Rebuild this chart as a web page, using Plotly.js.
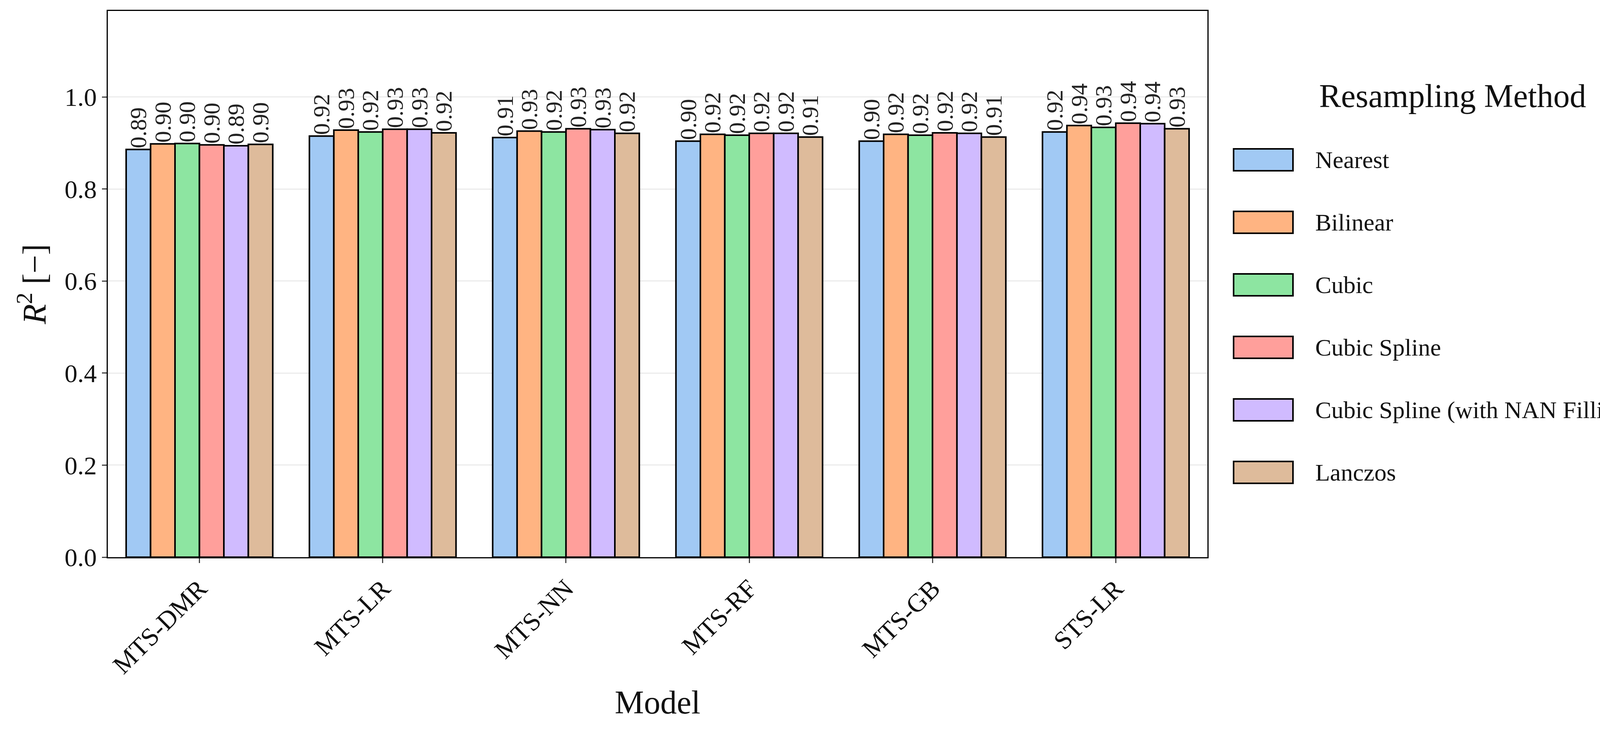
<!DOCTYPE html>
<html>
<head>
<meta charset="utf-8">
<script src="https://cdn.plot.ly/plotly-3.0.1.min.js"></script>
<style>body{margin:0;background:#fff}#graph{width:4383px;height:1899px}</style>
</head>
<body>
<div id="graph"></div>
<script>
/* ----- data ----- */
var models = ['MTS-DMR', 'MTS-LR', 'MTS-NN', 'MTS-RF', 'MTS-GB', 'STS-LR'];
var methods = ['Nearest', 'Bilinear', 'Cubic', 'Cubic Spline', 'Cubic Spline (with NAN Filling)', 'Lanczos'];
var nearest   = [0.886, 0.915, 0.912, 0.904, 0.904, 0.924];
var bilinear  = [0.898, 0.928, 0.926, 0.919, 0.919, 0.938];
var cubic     = [0.899, 0.924, 0.924, 0.917, 0.917, 0.934];
var spline    = [0.896, 0.930, 0.931, 0.921, 0.922, 0.943];
var splineNan = [0.894, 0.930, 0.929, 0.921, 0.921, 0.942];
var lanczos   = [0.897, 0.922, 0.921, 0.913, 0.913, 0.931];
var series = [nearest, bilinear, cubic, spline, splineNan, lanczos];
var colors = ['#a1c9f4', '#ffb482', '#8de5a1', '#ff9f9b', '#d0bbff', '#debb9b'];

var FONT = 'Liberation Serif, DejaVu Serif, serif';
var W = 4383, H = 1899;
var M = {l: 276, r: 1292, t: 28, b: 473};
var plotW = W - M.l - M.r, plotH = H - M.t - M.b;
function px(x) { return (x - M.l) / plotW; }
function py(y) { return (H - M.b - y) / plotH; }

var data = series.map(function(vals, i) {
    return {
        type: 'bar',
        name: methods[i],
        x: models,
        y: vals,
        marker: {color: colors[i], line: {color: '#000', width: 4}},
        texttemplate: '%{y:.2f}',
        textposition: 'outside',
        textangle: -90,
        constraintext: 'none',
        cliponaxis: false,
        textfont: {family: FONT, size: 60, color: '#222'}
    };
});

/* hand-drawn legend (plotly's bar legend icons are too small) */
var shapes = [], annotations = [];
annotations.push({
    xref: 'paper', yref: 'paper', x: px(3375), y: py(245),
    xanchor: 'left', yanchor: 'middle', showarrow: false,
    text: 'Resampling Method', font: {size: 84, family: FONT, color: '#111'}
});
methods.forEach(function(m, i) {
    var cy = 409 + i * 160;
    shapes.push({
        type: 'rect', xref: 'paper', yref: 'paper',
        x0: px(3158), x1: px(3310), y0: py(cy - 28), y1: py(cy + 28),
        fillcolor: colors[i], line: {color: '#000', width: 4}
    });
    annotations.push({
        xref: 'paper', yref: 'paper', x: px(3365), y: py(cy),
        xanchor: 'left', yanchor: 'middle', showarrow: false,
        text: m, font: {size: 62, family: FONT, color: '#111'}
    });
});

var layout = {
    width: W,
    height: H,
    paper_bgcolor: '#fff',
    plot_bgcolor: '#fff',
    font: {family: FONT, color: '#111'},
    margin: M,
    barmode: 'group',
    bargap: 0.2,
    bargroupgap: 0,
    showlegend: false,
    xaxis: {
        tickangle: -45,
        tickfont: {size: 66},
        showline: true, linecolor: '#000', linewidth: 3, mirror: true,
        ticks: 'outside', ticklen: 12, tickwidth: 3,
        automargin: false,
        title: {text: 'Model', font: {size: 84}, standoff: 30}
    },
    yaxis: {
        range: [0, 1.187],
        dtick: 0.2,
        tickformat: '.1f',
        tickfont: {size: 66},
        showgrid: true, gridcolor: '#e3e3e3', gridwidth: 2,
        zeroline: false,
        showline: true, linecolor: '#000', linewidth: 3, mirror: true,
        ticks: 'outside', ticklen: 12, tickwidth: 3,
        automargin: false,
        title: {text: '<i>R</i><sup>2</sup> [−]', font: {size: 84}, standoff: 20}
    },
    shapes: shapes,
    annotations: annotations
};

Plotly.newPlot('graph', data, layout, {staticPlot: true});
</script>
</body>
</html>
